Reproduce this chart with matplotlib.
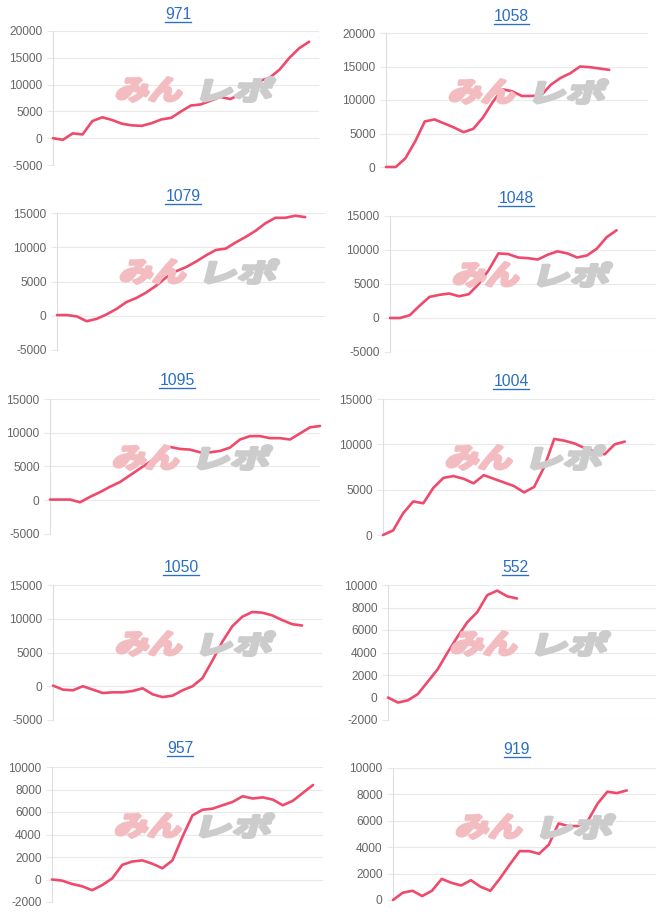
import numpy as np
import matplotlib
matplotlib.use("Agg")
import matplotlib.pyplot as plt
from matplotlib.textpath import TextPath
from matplotlib.font_manager import FontProperties
from matplotlib.patches import PathPatch
from matplotlib.transforms import Affine2D, IdentityTransform
from matplotlib.lines import Line2D

# ---------------- data ----------------
N_SLOTS = 28  # common number of x slots on every small chart

titles = ["971", "1058", "1079", "1048", "1095", "1004", "1050", "552", "957", "919"]

s971 = [0, -300, 900, 700, 3200, 3900, 3400, 2700, 2400, 2300, 2800, 3500, 3800, 5000,
        6100, 6300, 7000, 7700, 7300, 8200, 9800, 10700, 11300, 12800, 15000, 16800, 18000]
s1058 = [0, 0, 1300, 3800, 6800, 7100, 6500, 5900, 5200, 5700, 7400, 9700, 11600, 11300,
         10600, 10600, 10700, 12300, 13300, 14000, 15000, 14900, 14700, 14500]
s1079 = [100, 100, -100, -800, -450, 200, 1000, 2000, 2600, 3400, 4400, 5600, 6500, 7100,
         7900, 8800, 9600, 9800, 10700, 11500, 12400, 13500, 14300, 14300, 14600, 14400]
s1048 = [0, 0, 400, 1800, 3100, 3400, 3600, 3200, 3500, 5000, 7000, 9500, 9400, 8900,
         8800, 8600, 9300, 9800, 9500, 8900, 9200, 10200, 11900, 12900]
s1095 = [100, 100, 100, -300, 500, 1200, 2000, 2700, 3700, 4700, 5700, 6800, 7900, 7600,
         7500, 7100, 7100, 7300, 7800, 9000, 9500, 9500, 9200, 9200, 9000, 9900, 10800, 11000]
s1004 = [0, 500, 2400, 3700, 3500, 5200, 6300, 6500, 6200, 5700, 6600, 6200, 5800, 5400,
         4700, 5300, 7500, 10600, 10400, 10100, 9600, 9200, 8900, 10000, 10300]
s1050 = [100, -500, -600, 0, -500, -1000, -900, -900, -700, -300, -1200, -1600, -1400, -600,
         0, 1200, 3800, 6600, 8900, 10300, 11000, 10900, 10500, 9800, 9200, 9000]
s552 = [0, -450, -250, 300, 1400, 2500, 4000, 5400, 6700, 7600, 9100, 9500, 9000, 8800]
s957 = [0, -100, -400, -600, -950, -500, 100, 1300, 1600, 1700, 1400, 1000, 1700, 3800,
        5700, 6200, 6300, 6600, 6900, 7400, 7200, 7300, 7100, 6600, 7000, 7700, 8400]
s919 = [0, 550, 700, 300, 700, 1600, 1300, 1100, 1500, 1000, 700, 1650, 2700, 3700,
        3700, 3500, 4200, 5800, 5600, 5600, 6000, 7300, 8200, 8100, 8300]

series = [s971, s1058, s1079, s1048, s1095, s1004, s1050, s552, s957, s919]

ticks_a = [-5000, 0, 5000, 10000, 15000, 20000]
ticks_b = [0, 5000, 10000, 15000, 20000]
ticks_c = [-5000, 0, 5000, 10000, 15000]
ticks_d = [0, 5000, 10000, 15000]
ticks_e = [-2000, 0, 2000, 4000, 6000, 8000, 10000]
ticks_f = [0, 2000, 4000, 6000, 8000, 10000]
yticks = [ticks_a, ticks_b, ticks_c, ticks_c, ticks_c, ticks_d, ticks_c, ticks_e, ticks_e, ticks_f]

# ---------------- layout (pixels) ----------------
W, H = 666, 914
# plot area boxes: left, top, right, bottom
boxes = [(53, 31, 319, 165), (386, 33, 648, 167),
         (57, 213, 325, 350), (390, 216, 656, 352),
         (50, 399, 320, 534), (383, 399, 655, 535),
         (53, 585, 322, 720), (388, 585, 656, 720),
         (52, 767, 323, 902), (393, 768, 656, 900)]
# title centre x, baseline y
title_pos = [(178, 19), (511, 21), (183, 201), (516, 203), (177, 385),
             (511, 386), (181, 572), (515, 572), (180, 753), (517, 754)]

LINE = "#ef4a6b"
GRID = "#e9e9e9"
AXIS = "#dedede"
BLUE = "#2a6fc2"
TICKC = "#666666"
PINK = "#f3bcc1"
GREY = "#cccccc"

plt.rcParams['font.family'] = ['Liberation Sans', 'DejaVu Sans']

fig = plt.figure(figsize=(W / 100, H / 100), dpi=100)
fig.patch.set_facecolor("white")

wm_font = FontProperties(family="Noto Sans CJK JP", weight="bold")
SKEW = np.tan(np.deg2rad(14))
WM_STROKE = 2.4  # points, emboldens the logo glyphs


def watermark(text, x0, x1, ytop, ybot, color):
    """Draw skewed, emboldened text path filling the pixel box (y measured from top)."""
    p = TextPath((0, 0), text, size=1, prop=wm_font)
    ext = p.get_extents()
    pad = WM_STROKE * 100 / 72 / 2
    h = (ybot - ytop) - 2 * pad
    w = (x1 - x0) - 2 * pad - SKEW * h
    tr = (Affine2D().translate(-ext.x0, -ext.y0)
          .scale(w / ext.width, h / ext.height)
          .skew(np.arctan(SKEW), 0)
          .translate(x0 + pad, H - ybot + pad))
    patch = PathPatch(p, transform=tr, facecolor=color, edgecolor=color,
                      linewidth=WM_STROKE, joinstyle="round", zorder=1.5)
    fig.add_artist(patch)


title_texts = []
for title, vals, ticks, box, tpos in zip(titles, series, yticks, boxes, title_pos):
    l, t, r, b = box
    ax = fig.add_axes([l / W, 1 - b / H, (r - l) / W, (b - t) / H])
    ax.set_facecolor("none")
    x = np.arange(len(vals))
    ax.plot(x, vals, color=LINE, lw=1.9, solid_joinstyle="round",
            solid_capstyle="round", zorder=3, clip_on=False)
    ax.set_xlim(0, N_SLOTS - 1)
    ax.set_ylim(ticks[0], ticks[-1])
    ax.set_yticks(ticks)
    ax.set_yticklabels([str(v) for v in ticks])
    ax.set_xticks([])
    ax.grid(axis="y", color=GRID, lw=0.8)
    ax.set_axisbelow(True)
    for s in ["top", "right", "bottom"]:
        ax.spines[s].set_visible(False)
    ax.spines["left"].set_color(AXIS)
    ax.spines["left"].set_linewidth(0.8)
    ax.tick_params(axis="y", length=4, width=0.8, color=GRID, pad=3.5,
                   labelsize=8.6, labelcolor=TICKC)
    # watermark
    watermark("みん", l + 61, l + 134, t + 45, t + 72, PINK)
    watermark("レポ", l + 146, l + 224, t + 45, t + 72, GREY)
    # title
    tt = fig.text(tpos[0] / W, 1 - tpos[1] / H, title, ha="center", va="baseline",
                  fontsize=11.3, color=BLUE)
    title_texts.append(tt)

fig.canvas.draw()
renderer = fig.canvas.get_renderer()
for tt in title_texts:
    bb = tt.get_window_extent(renderer)
    ty = tt.get_position()[1] * H
    uy = ty - 2.6
    fig.add_artist(Line2D([bb.x0, bb.x1], [uy, uy], transform=IdentityTransform(),
                          color=BLUE, lw=0.95))

fig.savefig("out.png", dpi=100, facecolor="white")
